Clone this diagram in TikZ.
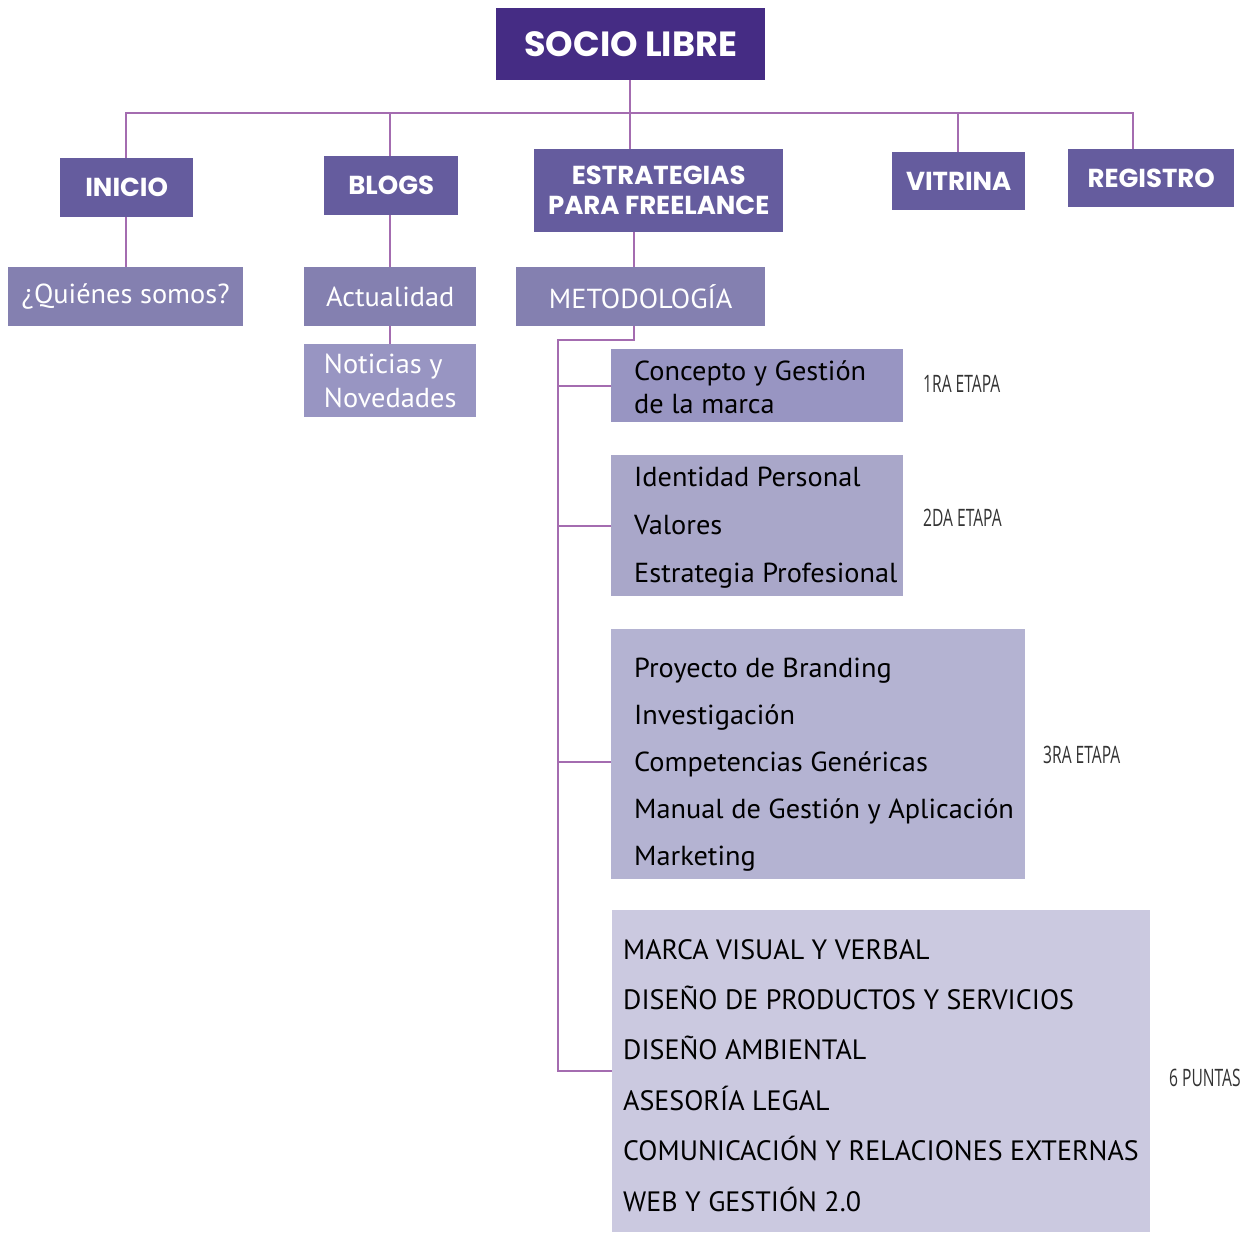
\documentclass[tikz,border=0pt]{standalone}
\usepackage{fontspec}
\setmainfont[FakeStretch=1.03]{PT Sans}
\newfontfamily\headfont{Poppins}
\newfontfamily\narrowfont[FakeStretch=0.65]{Open Sans}
\newfontfamily\capsfont{PT Sans}
\definecolor{topcol}{HTML}{452C84}
\definecolor{lvlA}{HTML}{655C9E}
\definecolor{lvlB}{HTML}{8480B0}
\definecolor{lvlC}{HTML}{9895C2}
\definecolor{etapaB}{HTML}{A9A7C9}
\definecolor{etapaC}{HTML}{B4B3D2}
\definecolor{puntascol}{HTML}{CBC9E0}
\definecolor{linecol}{HTML}{A46CB0}
\begin{document}
\begin{tikzpicture}[x=1pt,y=-1pt]
            \tikzstyle{box}=[rectangle, inner sep=0pt, anchor=north west]
            \tikzstyle{head}=[box, fill=lvlA, text=white, font=\headfont\bfseries\fontsize{26}{30}\selectfont]
            \tikzstyle{sub}=[box, fill=lvlB, text=white, font=\fontsize{27.5}{34}\selectfont]
            \tikzstyle{item}=[anchor=base west, inner sep=0pt, font=\fontsize{27.5}{30}\selectfont]
            \tikzstyle{capsitem}=[anchor=base west, inner sep=0pt, font=\capsfont\fontsize{28}{30}\selectfont]
            \tikzstyle{stage}=[anchor=base west, inner sep=0pt, text=black!80, font=\narrowfont\fontsize{24}{28}\selectfont]
            \tikzstyle{link}=[draw=linecol, line width=1.6pt]
            \useasboundingbox (0,0) rectangle (1253,1232);
            % level 0 and 1
            \node[box, fill=topcol, text=white, minimum width=269, minimum height=72, font=\headfont\bfseries\fontsize{35}{40}\selectfont] (socio) at (496,8) {SOCIO LIBRE};
            \node[head, minimum width=133, minimum height=59] (inicio) at (60,158) {INICIO};
            \node[head, minimum width=134, minimum height=59] (blogs) at (324,156) {BLOGS};
            \node[head, minimum width=249, minimum height=83, align=center] (estr) at (534,149) {ESTRATEGIAS\\PARA FREELANCE};
            \node[head, minimum width=133, minimum height=58] (vitrina) at (892,152) {VITRINA};
            \node[head, minimum width=166, minimum height=58] (registro) at (1068,149) {REGISTRO};
            % level 2
            \node[sub, minimum width=235, minimum height=59] (quienes) at (8,267) {¿Quiénes somos?};
            \node[sub, minimum width=172, minimum height=59] (actual) at (304,267) {Actualidad};
            \node[sub, fill=lvlC, minimum width=172, minimum height=73, align=left] (noticias) at (304,344) {Noticias y\\Novedades};
            \node[sub, minimum width=249, minimum height=59] (metodo) at (516,267) {METODOLOGÍA};
            % etapas
            \node[box, fill=lvlC, minimum width=292, minimum height=73] (etapa1) at (611,349) {};
            \node[box, fill=etapaB, minimum width=292, minimum height=141] (etapa2) at (611,455) {};
            \node[box, fill=etapaC, minimum width=414, minimum height=250] (etapa3) at (611,629) {};
            \node[box, fill=puntascol, minimum width=538, minimum height=322] (puntas) at (612,910) {};
            \node[item] (c1) at (634,380) {Concepto y Gestión};
            \node[item] (c2) at (634,413) {de la marca};
            \foreach \t [count=\i] in {Identidad Personal, Valores, Estrategia Profesional}
                \node[item] (id\i) at (634,486+48*\i-48) {\t};
            \foreach \t [count=\i] in {Proyecto de Branding, Investigación, Competencias Genéricas, Manual de Gestión y Aplicación, Marketing}
                \node[item] (pr\i) at (634,677+47*\i-47) {\t};
            \foreach \t [count=\i] in {MARCA VISUAL Y VERBAL, DISEÑO DE PRODUCTOS Y SERVICIOS, DISEÑO AMBIENTAL, ASESORÍA LEGAL, COMUNICACIÓN Y RELACIONES EXTERNAS, WEB Y GESTIÓN 2.0}
                \node[capsitem] (pu\i) at (623,959+50.4*\i-50.4) {\t};
            \node[stage] (s1) at (923,392) {1RA ETAPA};
            \node[stage] (s2) at (923,526) {2DA ETAPA};
            \node[stage] (s3) at (1043,763) {3RA ETAPA};
            \node[stage] (s4) at (1169,1086) {6 PUNTAS};
            % connectors
            \coordinate (barW) at (126,113);
            \coordinate (barE) at (1133,113);
            \coordinate (trunk) at (558,340);
            \draw[link] (inicio.north -| barW) -- (barW) -- (barE) -- (barE |- registro.north);
            \draw[link] (blogs.north -| 390,0) -- (390,113);
            \draw[link] (vitrina.north -| 958,0) -- (958,113);
            \draw[link] (socio.south -| 630,0) -- (estr.north -| 630,0);
            \draw[link] (inicio.south -| barW) -- (quienes.north -| barW);
            \draw[link] (blogs.south -| 390,0) -- (actual.north -| 390,0);
            \draw[link] (actual.south -| 390,0) -- (noticias.north -| 390,0);
            \draw[link] (estr.south -| 634,0) -- (metodo.north -| 634,0);
            \draw[link] (metodo.south -| 634,0) |- (trunk) -- (trunk |- puntas.west) -- (puntas.west);
            \draw[link] (etapa1.west) -- (etapa1.west -| trunk);
            \draw[link] (etapa2.west) -- (etapa2.west -| trunk);
            \draw[link] ([yshift=-8pt]etapa3.west) -- ([yshift=-8pt]etapa3.west -| trunk);
\end{tikzpicture}
\end{document}
